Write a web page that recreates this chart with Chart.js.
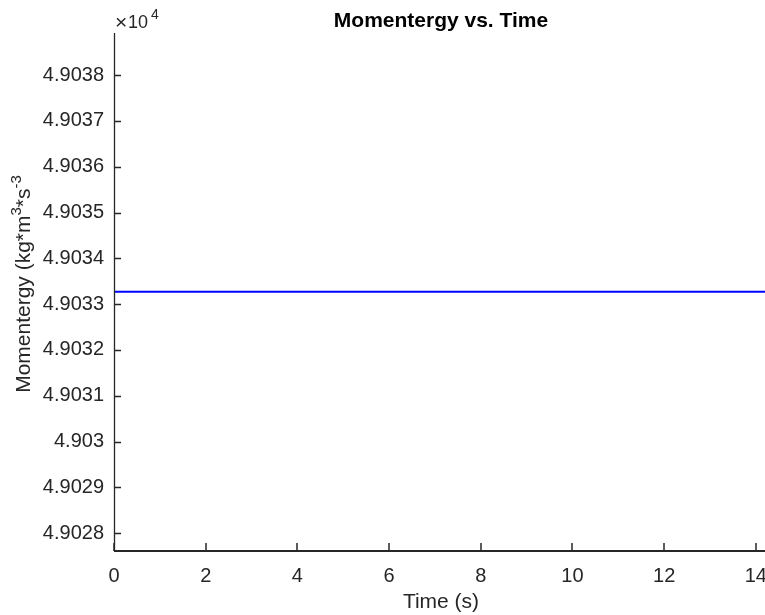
<!DOCTYPE html>
<html>
<head>
<meta charset="utf-8">
<title>Momentergy vs. Time</title>
<script src="https://cdn.jsdelivr.net/npm/chart.js@4.4.1/dist/chart.umd.min.js"></script>
<style>
  html, body { margin: 0; padding: 0; background: #fff; overflow: hidden; }
</style>
</head>
<body>
<canvas id="myChart" width="765" height="615"></canvas>
<script>
// data (momentergy is flat at ~4.90333e4)
const timeS = [0, 1, 2, 3, 4, 5, 6, 7, 8, 9, 10, 11, 12, 13, 14, 14.2];
const momentergy = [49033.27, 49033.27, 49033.27, 49033.27, 49033.27, 49033.27, 49033.27, 49033.27,
                    49033.27, 49033.27, 49033.27, 49033.27, 49033.27, 49033.27, 49033.27, 49033.27];
const xTicks = [0, 2, 4, 6, 8, 10, 12, 14];
const yTicks = [49028, 49029, 49030, 49031, 49032, 49033, 49034, 49035, 49036, 49037, 49038];
const xRange = [0, 14.2];
const yRange = [49027.61, 49038.92];
const yExponent = 4;

const axisColor = "#262626";
const fontName = "'Liberation Sans', Arial, sans-serif";

// MATLAB-ish axes: inward ticks, title, exponent label, y label with superscripts
const matlabAxes = {
    id: "matlabAxes",
    afterDraw(chart) {
        const ctx = chart.ctx;
        const a = chart.chartArea;
        const x = chart.scales.x;
        const y = chart.scales.y;
        ctx.save();
        ctx.strokeStyle = axisColor;

        // y axis line + ticks
        ctx.lineWidth = 1.3;
        ctx.beginPath();
        ctx.moveTo(a.left + 0.5, a.top);
        ctx.lineTo(a.left + 0.5, a.bottom);
        yTicks.forEach(v => {
            const py = Math.round(y.getPixelForValue(v)) + 0.5;
            ctx.moveTo(a.left, py);
            ctx.lineTo(a.left + 7, py);
        });
        ctx.stroke();

        // x axis line + ticks
        ctx.lineWidth = 2;
        ctx.beginPath();
        ctx.moveTo(a.left, a.bottom);
        ctx.lineTo(a.right, a.bottom);
        ctx.stroke();
        ctx.lineWidth = 1.5;
        ctx.beginPath();
        xTicks.forEach(v => {
            const px = Math.round(x.getPixelForValue(v));
            ctx.moveTo(px, a.bottom);
            ctx.lineTo(px, a.bottom - 8);
        });
        ctx.stroke();

        // title
        ctx.font = "bold 21px " + fontName;
        ctx.fillStyle = "#000";
        ctx.textAlign = "center";
        ctx.textBaseline = "alphabetic";
        ctx.fillText("Momentergy vs. Time", 441, 27);

        // x10^4
        ctx.fillStyle = axisColor;
        ctx.textAlign = "left";
        ctx.font = "21px " + fontName;
        ctx.fillText("\u00d7", 115, 29);
        ctx.font = "18px " + fontName;
        ctx.fillText("10", 128, 28);
        ctx.font = "14px " + fontName;
        ctx.fillText(String(yExponent), 151, 19);

        // x label
        ctx.font = "21px " + fontName;
        ctx.textAlign = "center";
        ctx.fillText("Time (s)", 441, 608);

        // y label, rotated, with superscripts
        const parts = [
            { t: "Momentergy (kg*m", sup: false },
            { t: "3", sup: true },
            { t: "*s", sup: false },
            { t: "-3", sup: true }
        ];
        const mainFont = "21px " + fontName;
        const supFont = "15px " + fontName;
        let total = 0;
        parts.forEach(p => {
            ctx.font = p.sup ? supFont : mainFont;
            p.w = ctx.measureText(p.t).width;
            total += p.w;
        });
        ctx.translate(30, 284);
        ctx.rotate(-Math.PI / 2);
        ctx.textAlign = "left";
        let cx = -total / 2;
        parts.forEach(p => {
            ctx.font = p.sup ? supFont : mainFont;
            ctx.fillText(p.t, cx, p.sup ? -9 : 0);
            cx += p.w;
        });
        ctx.restore();
    }
};

const ctx = document.getElementById("myChart").getContext("2d");
const myChart = new Chart(ctx, {
    type: "scatter",
    data: {
        datasets: [{
            label: "Momentergy",
            data: timeS.map((t, i) => ({ x: t, y: momentergy[i] })),
            showLine: true,
            borderColor: "#0000ff",
            borderWidth: 1.8,
            pointRadius: 0,
            fill: false
        }]
    },
    options: {
        responsive: false,
        animation: false,
        devicePixelRatio: 1,
        layout: { padding: { top: 33, right: 0, left: 0, bottom: 0 } },
        plugins: {
            legend: { display: false },
            tooltip: { enabled: false },
            title: { display: false }
        },
        scales: {
            x: {
                type: "linear",
                min: xRange[0],
                max: xRange[1],
                grid: { display: false, drawTicks: false },
                border: { display: false },
                afterBuildTicks: s => { s.ticks = xTicks.map(v => ({ value: v })); },
                afterFit: s => { s.height = 64; s.paddingRight = 0; s.paddingLeft = 0; },
                ticks: {
                    color: axisColor,
                    font: { family: fontName, size: 20 },
                    padding: 13,
                    maxRotation: 0,
                    autoSkip: false,
                    callback: v => String(v)
                }
            },
            y: {
                type: "linear",
                min: yRange[0],
                max: yRange[1],
                grid: { display: false, drawTicks: false },
                border: { display: false },
                afterBuildTicks: s => { s.ticks = yTicks.map(v => ({ value: v })); },
                afterFit: s => { s.width = 114; s.paddingTop = 0; s.paddingBottom = 0; },
                ticks: {
                    color: axisColor,
                    font: { family: fontName, size: 20 },
                    padding: 10,
                    autoSkip: false,
                    callback: v => String(+(v / Math.pow(10, yExponent)).toFixed(4))
                }
            }
        }
    },
    plugins: [matlabAxes]
});
</script>
</body>
</html>
